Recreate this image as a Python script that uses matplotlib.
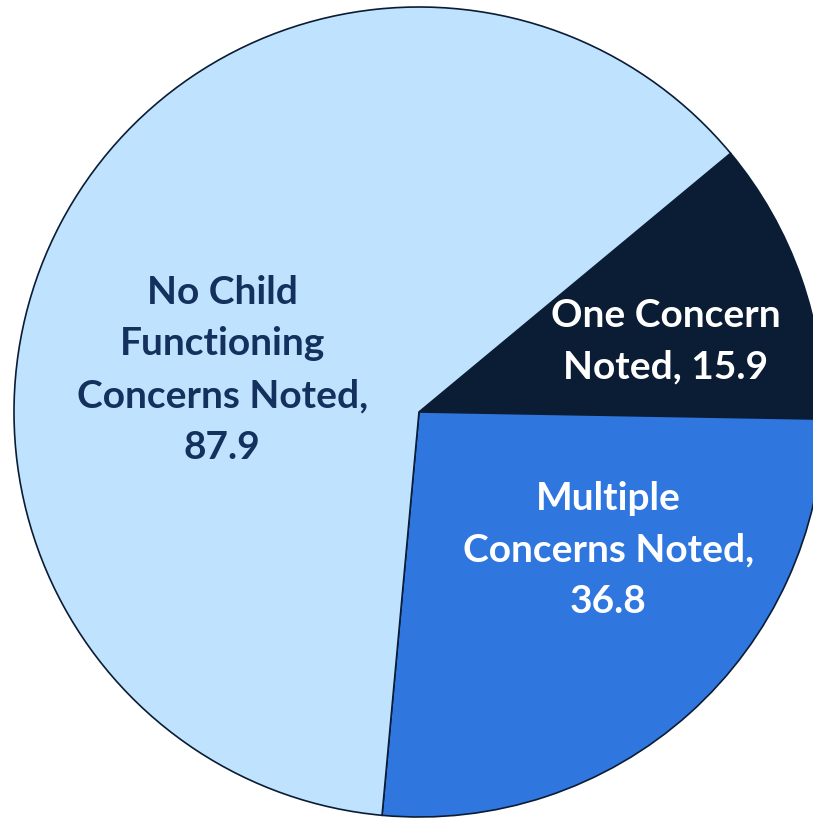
import matplotlib.pyplot as plt

# Data
labels = ['One Concern\nNoted, 15.9',
          'Multiple\nConcerns Noted,\n36.8',
          'No Child\nFunctioning\nConcerns Noted,\n87.9']
values = [15.9, 36.8, 87.9]
colors = ['#0B1C35', '#2F77DF', '#BFE3FE']
text_colors = ['white', 'white', '#14315E']

# Label centers (data units, pie radius = 1)
label_pos = [(0.61, 0.175), (0.467, -0.341), (-0.486, 0.104)]

fig = plt.figure(figsize=(8.13, 8.19), dpi=100)
ax = fig.add_axes([0, 0, 1, 1])

wedges, texts = ax.pie(values, labels=labels, colors=colors,
                       startangle=39.7, counterclock=False,
                       wedgeprops=dict(edgecolor='#0B1C35', linewidth=1.2),
                       textprops=dict(fontsize=28, fontweight='bold', family='Lato',
                                      ha='center', va='center', linespacing=1.58))

for t, pos, c in zip(texts, label_pos, text_colors):
    t.set_position(pos)
    t.set_color(c)
    t.set_ha('center')
    t.set_va('center')

# pie center at pixel (419, 412) with radius 405 px
ax.set_xlim(-419 / 405, (813 - 419) / 405)
ax.set_ylim(-(819 - 412) / 405, 412 / 405)
ax.set_aspect('auto')
ax.axis('off')

plt.savefig('out.png', dpi=100)
